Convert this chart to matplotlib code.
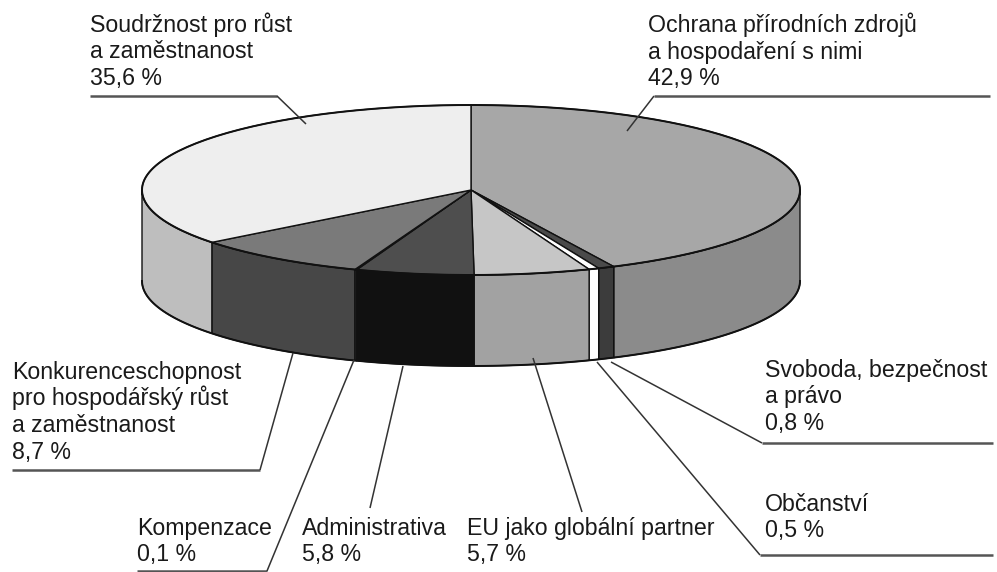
import numpy as np
import matplotlib.pyplot as plt
from matplotlib.patches import Polygon

plt.rcParams['font.family'] = ['Liberation Sans', 'DejaVu Sans']

# slices, clockwise from 12 o'clock
labels = [
    'Ochrana přírodních zdrojů\na hospodaření s nimi',
    'Svoboda, bezpečnost\na právo',
    'Občanství',
    'EU jako globální partner',
    'Administrativa',
    'Kompenzace',
    'Konkurenceschopnost\npro hospodářský růst\na zaměstnanost',
    'Soudržnost pro růst\na zaměstnanost',
]
shares = [42.9, 0.8, 0.5, 5.7, 5.8, 0.1, 8.7, 35.6]
value_text = ['42,9 %', '0,8 %', '0,5 %', '5,7 %', '5,8 %', '0,1 %', '8,7 %', '35,6 %']

top_colors = ['#a7a7a7', '#4a4a4a', '#ffffff', '#c6c6c6', '#4e4e4e', '#6a6a6a', '#7a7a7a', '#eeeeee']
side_colors = ['#8b8b8b', '#3c3c3c', '#ffffff', '#a2a2a2', '#111111', '#3a3a3a', '#474747', '#bebebe']

# pie geometry in pixels
cx, cy, rx, ry, depth = 471, 190, 329, 85, 91

fig = plt.figure(figsize=(9.97, 5.72), dpi=100)
ax = fig.add_axes([0, 0, 1, 1])
ax.set_xlim(0, 997)
ax.set_ylim(572, 0)
ax.axis('off')


def arc(t1, t2, dy=0, n=120):
    t = np.radians(np.linspace(t1, t2, n))
    return np.column_stack([cx + rx * np.cos(t), cy - ry * np.sin(t) + dy])


fr = np.array(shares) / sum(shares)
edges = 90 - 360 * np.concatenate([[0], np.cumsum(fr)])

# side walls (front half only)
for i in range(len(shares)):
    a0, a1 = edges[i], edges[i + 1]
    hi, lo = min(a0, 0), max(a1, -180)
    if hi > lo:
        pts = np.vstack([arc(hi, lo), arc(lo, hi, depth)])
        ax.add_patch(Polygon(pts, closed=True, fc=side_colors[i], ec='#111111', lw=1.0))

# top faces
for i in range(len(shares)):
    pts = np.vstack([[cx, cy], arc(edges[i], edges[i + 1])])
    ax.add_patch(Polygon(pts, closed=True, fc=top_colors[i], ec='#111111', lw=1.0))

# outer rim a bit heavier
rim = np.vstack([arc(0, 180), arc(180, 360 - 0.01)])
ax.plot(rim[:, 0], rim[:, 1], color='#111111', lw=1.4)
ax.plot(*arc(0, -180, depth).T, color='#111111', lw=1.4)

# labels: (x, first baseline)
fs = 16.7
lab_pos = [(648, 32), (765, 377), (765, 511), (467, 535), (302, 535), (137, 535), (12, 379), (90, 32)]
step = 26.5
for i, (x, y) in enumerate(lab_pos):
    lines = labels[i].split('\n') + [value_text[i]]
    for k, s in enumerate(lines):
        ax.text(x, y + k * step, s, fontsize=fs, color='#1a1a1a', va='baseline', ha='left')

# leader lines: horizontal part then diagonal to the slice
leaders = [
    [(990, 96), (654, 96), (627, 131)],
    [(993, 443), (762, 443), (611, 362)],
    [(993, 555), (760, 555), (597, 362)],
    [(582, 512), (533, 358)],
    [(370, 508), (403, 366)],
    [(137, 571), (267, 571), (354, 360)],
    [(12, 470), (260, 470), (293, 353)],
    [(90, 96), (277, 96), (306, 124)],
]
for pts in leaders:
    if len(pts) == 3:
        ax.plot([pts[0][0], pts[1][0]], [pts[0][1], pts[1][1]], color='#555555', lw=1.8,
                solid_capstyle='butt')
    xs, ys = zip(*pts[-2:])
    ax.plot(xs, ys, color='#333333', lw=1.1, solid_capstyle='butt')

fig.savefig('out.png', dpi=100)
